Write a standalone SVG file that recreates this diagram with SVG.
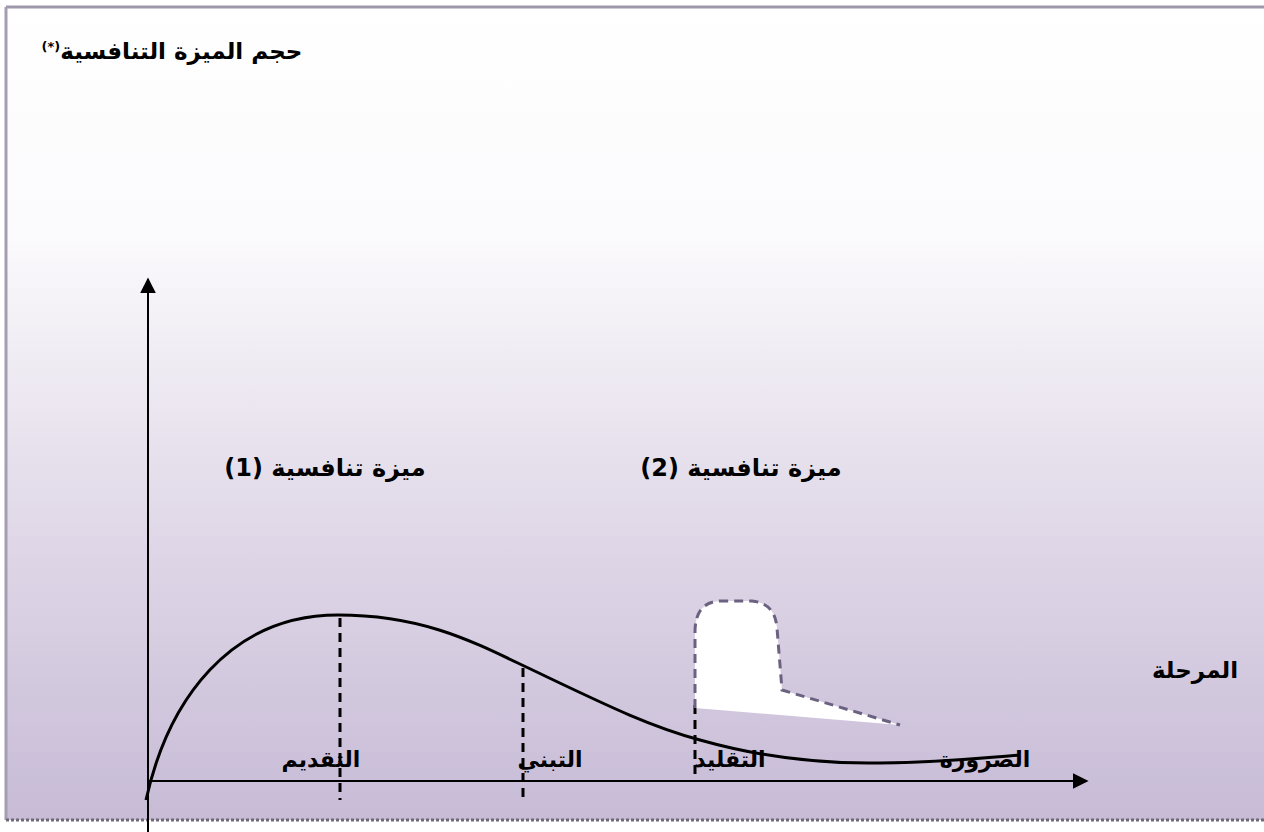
<svg xmlns="http://www.w3.org/2000/svg" width="1264" height="832" viewBox="0 0 1264 832">
<defs>
<linearGradient id="bg" x1="0" y1="0" x2="0" y2="1">
<stop offset="0" stop-color="#ffffff"/>
<stop offset="0.28" stop-color="#fbfafc"/>
<stop offset="0.6" stop-color="#e3dcea"/>
<stop offset="1" stop-color="#c7bbd6"/>
</linearGradient>
<marker id="arr" viewBox="0 0 10 10" refX="9" refY="5" markerWidth="16" markerHeight="16" markerUnits="userSpaceOnUse" orient="auto">
<path d="M0,0 L10,5 L0,10 Z" fill="#000"/>
</marker>
<style>
.lbl{font-family:"DejaVu Sans","Liberation Sans",sans-serif;font-weight:bold;fill:#000;}
.dash{stroke:#000;stroke-width:3;stroke-dasharray:9,6;fill:none;}
</style>
</defs>
<rect x="0" y="0" width="1264" height="832" fill="#fff"/>
<rect x="6" y="7" width="1258" height="813" fill="url(#bg)"/>
<line x1="6" y1="7" x2="1264" y2="7" stroke="#9f98ac" stroke-width="3"/>
<line x1="6" y1="7" x2="6" y2="820" stroke="#a59db2" stroke-width="3"/>
<line x1="6" y1="820" x2="1264" y2="820" stroke="#6e6878" stroke-width="3" stroke-dasharray="3,2"/>

<g id="title"><text class="lbl" x="172" y="59" font-size="23" text-anchor="middle" direction="rtl">حجم الميزة التنافسية<tspan font-size="13" dy="-8">(*)</tspan></text></g>

<g id="connectors">
<line x1="148" y1="832" x2="148" y2="279" stroke="#000" stroke-width="2" marker-end="url(#arr)"/>
<line x1="148" y1="781" x2="1087" y2="781" stroke="#000" stroke-width="2" marker-end="url(#arr)"/>
<path d="M146,800 C168,700 230,615 338,615 C420,615 470,640 522,665 C600,702 645,725 700,740 C760,757 820,764 880,763 C950,762 990,757 1020,755" fill="none" stroke="#000" stroke-width="3"/>
<line class="dash" x1="340" y1="618" x2="340" y2="800"/>
<line class="dash" x1="523" y1="668" x2="523" y2="800"/>
<line class="dash" x1="695" y1="705" x2="695" y2="782"/>
</g>

<g id="shape2">
<path d="M695,708 L695,632 Q695,601 722,601 L752,601 Q775,603 777,628 L782,690 L900,725 Z" fill="#fff"/>
<path d="M695,708 L695,632 Q695,601 722,601 L752,601 Q775,603 777,628 L782,690 L900,725" fill="none" stroke="#6b6180" stroke-width="3" stroke-dasharray="9,6"/>
</g>

<g id="adv1"><text class="lbl" x="325" y="476" font-size="24" text-anchor="middle" direction="rtl">ميزة تنافسية (1)</text></g>
<g id="adv2"><text class="lbl" x="741" y="476" font-size="24" text-anchor="middle" direction="rtl">ميزة تنافسية (2)</text></g>
<g id="stage"><text class="lbl" x="1195" y="678" font-size="23" text-anchor="middle" direction="rtl">المرحلة</text></g>
<g id="s1"><text class="lbl" x="321" y="767" font-size="22" text-anchor="middle" direction="rtl">التقديم</text></g>
<g id="s2"><text class="lbl" x="550" y="767" font-size="22" text-anchor="middle" direction="rtl">التبني</text></g>
<g id="s3"><text class="lbl" x="730" y="767" font-size="22" text-anchor="middle" direction="rtl">التقليد</text></g>
<g id="s4"><text class="lbl" x="985" y="767" font-size="22" text-anchor="middle" direction="rtl">الضرورة</text></g>
</svg>
